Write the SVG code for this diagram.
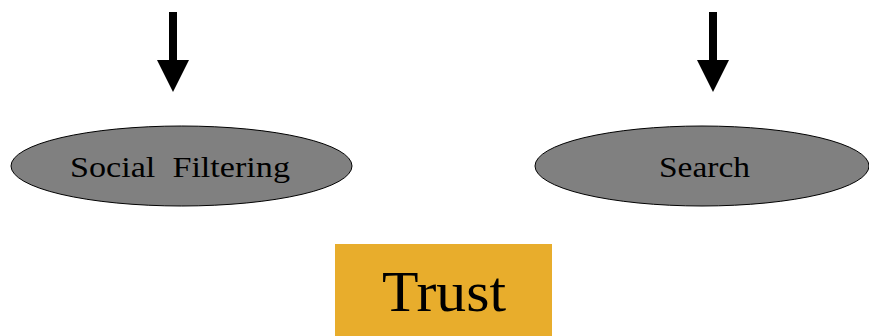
<svg xmlns="http://www.w3.org/2000/svg" width="869" height="336" viewBox="0 0 869 336">
  <style>
    .node { fill: #808080; stroke: #000; stroke-width: 1; }
    .label { font-family: "Liberation Serif", "Times New Roman", serif; fill: #000; text-anchor: middle; white-space: pre; }
    .shaft { stroke: #000; stroke-width: 8; }
    .head { fill: #000; }
  </style>
  <rect width="869" height="336" fill="#fff"/>
  <g id="connectors">
    <line class="shaft" x1="173" y1="12" x2="173" y2="62"/>
    <polygon class="head" points="157,60 189,60 173,92"/>
    <line class="shaft" x1="713" y1="12" x2="713" y2="62"/>
    <polygon class="head" points="697,60 729,60 713,92"/>
  </g>
  <g id="social-filtering">
    <ellipse class="node" cx="181.5" cy="166" rx="170.5" ry="40"/>
    <text class="label" x="180" y="177" font-size="30" textLength="220" lengthAdjust="spacingAndGlyphs">Social  Filtering</text>
  </g>
  <g id="search">
    <ellipse class="node" cx="702" cy="166" rx="167" ry="40"/>
    <text class="label" x="704.5" y="177" font-size="30" textLength="91" lengthAdjust="spacingAndGlyphs">Search</text>
  </g>
  <g id="trust">
    <rect x="335" y="244" width="217" height="92" fill="#E8AD2C"/>
    <text class="label" x="444" y="311" font-size="57" textLength="124" lengthAdjust="spacingAndGlyphs">Trust</text>
  </g>
</svg>
